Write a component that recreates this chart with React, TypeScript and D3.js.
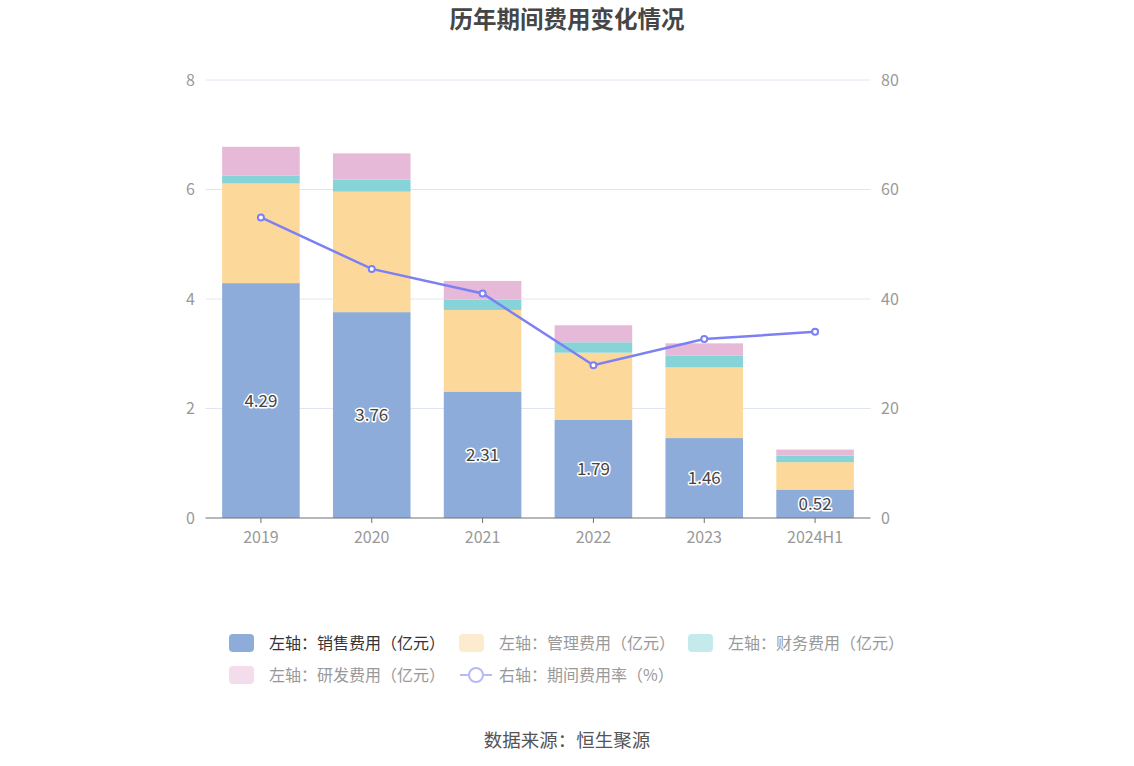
import React from 'react';
import * as d3 from 'd3';

const years = ['2019', '2020', '2021', '2022', '2023', '2024H1'];
const sales = [4.29, 3.76, 2.31, 1.79, 1.46, 0.52];
const admin = [1.82, 2.2, 1.49, 1.23, 1.29, 0.5];
const finance = [0.14, 0.22, 0.19, 0.19, 0.22, 0.12];
const rnd = [0.53, 0.48, 0.34, 0.31, 0.22, 0.11];
const rate = [54.9, 45.5, 41.0, 27.9, 32.7, 34.0];
const leftTicks = [0, 2, 4, 6, 8];
const rightTicks = [0, 20, 40, 60, 80];

const W = 1134;
const H = 766;
const FONT = '"Noto Sans CJK SC", "Noto Sans", sans-serif';

const seriesDefs = [
  { key: 'sales', values: sales, color: '#8eacd9', faded: '#8eacd9', label: '左轴：销售费用（亿元）', active: true },
  { key: 'admin', values: admin, color: '#fdd89b', faded: '#fdebd0', label: '左轴：管理费用（亿元）', active: false },
  { key: 'fin', values: finance, color: '#86d4d8', faded: '#c4eaec', label: '左轴：财务费用（亿元）', active: false },
  { key: 'rnd', values: rnd, color: '#e6b9d8', faded: '#f3dcec', label: '左轴：研发费用（亿元）', active: false },
];

const App = () => {
  const margin = { left: 205.5, right: 870.5, top: 80, bottom: 518 };

  const x = d3.scaleBand<string>()
    .domain(years)
    .range([margin.left, margin.right])
    .paddingInner(0.3)
    .paddingOuter(0.15);
  const xc = (d: string) => (x(d) as number) + x.bandwidth() / 2;

  const yL = d3.scaleLinear().domain([0, 8]).range([margin.bottom, margin.top]);
  const yR = d3.scaleLinear().domain([0, 80]).range([margin.bottom, margin.top]);

  const rows = years.map((y, i) => {
    const r: any = { year: y };
    seriesDefs.forEach(s => { r[s.key] = s.values[i]; });
    return r;
  });
  const stacked = d3.stack().keys(seriesDefs.map(s => s.key))(rows);

  const line = d3.line<number>()
    .x((_, i) => xc(years[i]))
    .y(d => yR(d));

  const legendX = [229, 459, 688];
  const legendY = [643, 675];

  return (
    <svg width={W} height={H} style={{ position: 'absolute', left: 0, top: 0, background: '#fff' }} fontFamily={FONT}>
      <text x={567} y={28} textAnchor="middle" fontSize={23.5} fontWeight="bold" fill="#464646">历年期间费用变化情况</text>

      {leftTicks.map(t => (
        <g key={'g' + t}>
          {t > 0 && <line x1={margin.left} x2={margin.right} y1={yL(t)} y2={yL(t)} stroke="#e0e6f1" strokeWidth={1} />}
          <text x={195} y={yL(t)} dy="0.35em" textAnchor="end" fontSize={16} fill="#999">{t}</text>
        </g>
      ))}
      {rightTicks.map(t => (
        <text key={'r' + t} x={881} y={yR(t)} dy="0.35em" textAnchor="start" fontSize={16} fill="#999">{t}</text>
      ))}

      {stacked.map((layer, li) => (
        <g key={layer.key} fill={seriesDefs[li].color}>
          {layer.map((d, i) => (
            <rect key={i} x={x(years[i])} width={x.bandwidth()} y={yL(d[1])} height={yL(d[0]) - yL(d[1])} />
          ))}
        </g>
      ))}

      <line x1={margin.left} x2={margin.right} y1={margin.bottom} y2={margin.bottom} stroke="#6e7079" strokeWidth={1} />
      {years.map(yv => (
        <g key={'x' + yv}>
          <line x1={xc(yv)} x2={xc(yv)} y1={margin.bottom} y2={margin.bottom + 5} stroke="#6e7079" />
          <text x={xc(yv)} y={margin.bottom + 19} dy="0.35em" textAnchor="middle" fontSize={16} fill="#999">{yv}</text>
        </g>
      ))}

      {sales.map((v, i) => (
        <text key={'l' + i} x={xc(years[i])} y={yL(v / 2)} dy="0.35em" textAnchor="middle" fontSize={17}
          fill="#444" stroke="#fff" strokeWidth={3} paintOrder="stroke" strokeLinejoin="round">{v.toFixed(2)}</text>
      ))}

      <path d={line(rate) as string} fill="none" stroke="#7c80f2" strokeWidth={2.5} />
      {rate.map((v, i) => (
        <circle key={'c' + i} cx={xc(years[i])} cy={yR(v)} r={3} fill="#fff" stroke="#7c80f2" strokeWidth={2} />
      ))}

      {seriesDefs.map((s, i) => {
        const lx = legendX[i % 3];
        const ly = legendY[Math.floor(i / 3)];
        return (
          <g key={'lg' + s.key}>
            <rect x={lx} y={ly - 9} width={25} height={18} rx={4} fill={s.active ? s.color : s.faded} />
            <text x={lx + 40} y={ly} dy="0.35em" fontSize={16} fill={s.active ? '#333' : '#999'}>{s.label}</text>
          </g>
        );
      })}
      <g>
        <line x1={460} x2={492} y1={675} y2={675} stroke="#b8baf8" strokeWidth={2} />
        <circle cx={476} cy={675} r={7} fill="#fff" stroke="#b8baf8" strokeWidth={2} />
        <text x={499} y={675} dy="0.35em" fontSize={16} fill="#999">右轴：期间费用率（%）</text>
      </g>

      <text x={567} y={741} dy="0.35em" textAnchor="middle" fontSize={18.5} fill="#555">数据来源：恒生聚源</text>
    </svg>
  );
};

export default App;
